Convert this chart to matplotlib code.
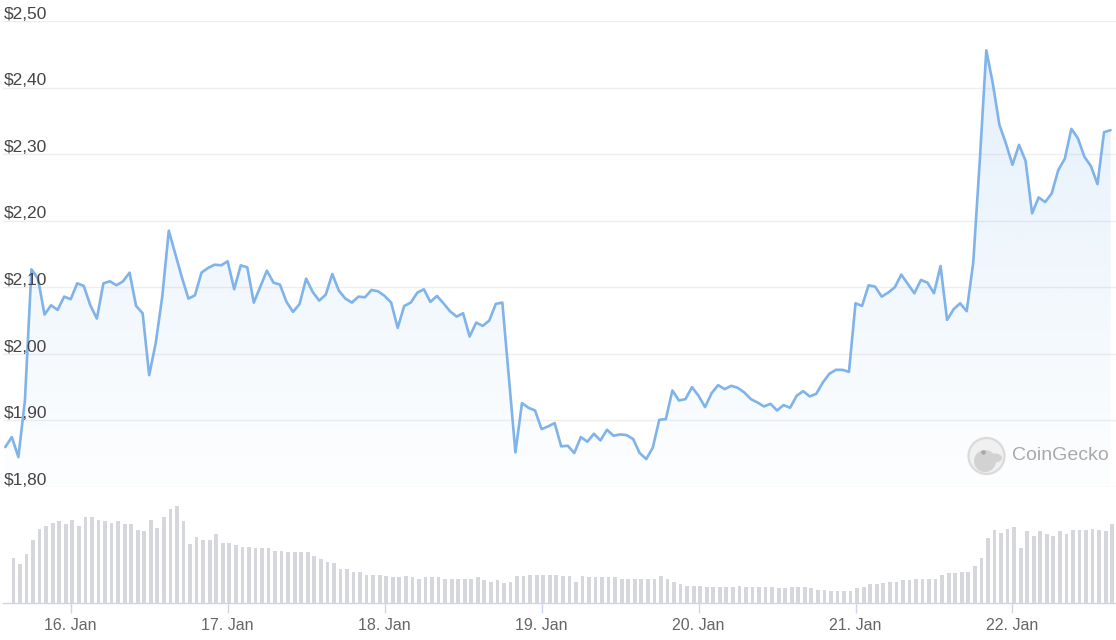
import numpy as np
import pandas as pd
import matplotlib
matplotlib.use("Agg")
import matplotlib.pyplot as plt
import matplotlib.dates as mdates
from matplotlib.patches import Circle, Ellipse, Polygon

plt.rcParams['font.family'] = ['Liberation Sans', 'DejaVu Sans']

# ---------------- data (hourly, starting 15 Jan 14:00) ----------------
start_time = "2025-01-15 14:00"

price = [
    1.860, 1.875, 1.845, 1.930, 2.127, 2.113, 2.059, 2.073, 2.066, 2.086,
    2.082, 2.106, 2.102, 2.073, 2.053, 2.106, 2.109, 2.103, 2.109, 2.122,
    2.072, 2.061, 1.968, 2.016, 2.086, 2.185, 2.150, 2.115, 2.083, 2.088,
    2.122, 2.129, 2.134, 2.133, 2.139, 2.097, 2.133, 2.130, 2.077, 2.101,
    2.125, 2.107, 2.104, 2.078, 2.063, 2.075, 2.113, 2.093, 2.080, 2.089,
    2.120, 2.095, 2.083, 2.077, 2.086, 2.085, 2.096, 2.094, 2.087, 2.077,
    2.039, 2.072, 2.077, 2.092, 2.097, 2.078, 2.087, 2.076, 2.064, 2.056,
    2.061, 2.026, 2.047, 2.042, 2.050, 2.075, 2.077, 1.965, 1.852, 1.926,
    1.919, 1.915, 1.887, 1.891, 1.896, 1.861, 1.862, 1.851, 1.875, 1.868,
    1.880, 1.870, 1.886, 1.877, 1.879, 1.878, 1.872, 1.851, 1.842, 1.859,
    1.901, 1.902, 1.945, 1.930, 1.932, 1.950, 1.937, 1.920, 1.941, 1.953,
    1.947, 1.952, 1.949, 1.942, 1.932, 1.927, 1.921, 1.925, 1.915, 1.923,
    1.919, 1.937, 1.944, 1.936, 1.940, 1.957, 1.970, 1.976, 1.976, 1.973,
    2.076, 2.072, 2.103, 2.101, 2.086, 2.092, 2.100, 2.119, 2.105, 2.091,
    2.111, 2.107, 2.091, 2.132, 2.051, 2.067, 2.076, 2.064, 2.137, 2.290,
    2.456, 2.406, 2.344, 2.316, 2.284, 2.314, 2.290, 2.211, 2.235, 2.228,
    2.241, 2.276, 2.293, 2.338, 2.324, 2.296, 2.282, 2.255, 2.333, 2.336,
]

# relative hourly volume (bar heights)
volume = [
    45.3, 39.3, 49.3, 63.3, 74.3, 77.3, 80.3, 81.7, 78.7, 83.0,
    77.3, 85.7, 85.7, 83.0, 81.7, 80.3, 81.7, 79.0, 79.0, 73.0,
    71.7, 83.0, 74.7, 85.7, 94.3, 97.0, 81.7, 59.0, 66.0, 63.3,
    63.3, 69.0, 60.3, 60.3, 57.7, 56.3, 56.3, 55.0, 55.0, 55.0,
    52.3, 52.3, 50.7, 50.7, 50.7, 50.7, 46.7, 43.7, 41.0, 39.7,
    34.0, 34.0, 31.3, 31.3, 28.3, 28.3, 28.3,
    27.0, 25.7, 25.7, 27.0, 25.7, 24.3, 25.7, 25.7, 25.7, 24.3,
    24.3, 24.3, 24.3, 24.3, 25.7, 22.7, 21.3, 22.7, 20.0, 21.3,
    27.0, 27.0, 28.3, 28.3, 28.3, 28.3, 28.3, 27.0, 27.0, 21.3,
    27.0, 25.7, 25.7, 25.7, 25.7, 25.7, 24.3, 24.3, 24.3, 24.3,
    24.3, 24.3, 27.0, 24.3, 21.3, 18.7, 17.3, 17.3, 17.3, 16.0,
    16.0, 16.0, 16.0, 16.0,
    17.3, 16.0, 16.0, 16.0, 16.0, 16.0, 14.7, 14.7, 16.0, 16.0,
    16.0, 14.7, 13.3, 13.3, 12.0, 12.0, 12.0, 12.0, 14.7, 16.0,
    18.7, 18.7, 20.0, 21.3, 21.3, 22.7, 22.7, 24.3, 24.3, 24.3,
    24.3, 28.3, 29.7, 29.7, 31.0, 31.0, 36.7, 45.0, 64.7, 73.0,
    70.3, 74.3, 76.0, 55.0, 71.7, 67.3, 71.7, 69.0, 67.3, 71.7,
    69.0, 73.0, 73.0, 73.0, 74.3, 73.0, 71.7, 78.7,
]

y_ticks = [1.80, 1.90, 2.00, 2.10, 2.20, 2.30, 2.40, 2.50]
y_tick_labels = [r"\$1,80", r"\$1,90", r"\$2,00", r"\$2,10",
                 r"\$2,20", r"\$2,30", r"\$2,40", r"\$2,50"]
day_ticks = ["2025-01-16", "2025-01-17", "2025-01-18", "2025-01-19",
             "2025-01-20", "2025-01-21", "2025-01-22"]

# ---------------- styling ----------------
W, H = 1116, 640
LINE = "#7fb3ea"
FILL_RGB = (124 / 255, 181 / 255, 236 / 255)
BAR = "#d5d7dc"
GRID = "#eeeeee"
AXIS = "#ccd6eb"

fig = plt.figure(figsize=(W / 100, H / 100), dpi=100)
fig.patch.set_facecolor("white")


def px_axes(left, top, right, bottom):
    return fig.add_axes([left / W, 1 - bottom / H, (right - left) / W, (bottom - top) / H])


ax = px_axes(3, 21, 1116, 487)
axv = px_axes(3, 495, 1116, 603)

t0 = pd.Timestamp(start_time)
times = pd.date_range(t0, periods=len(price), freq="h")
vtimes = pd.date_range(t0 + pd.Timedelta(minutes=75), periods=len(volume), freq="h")
tnum = mdates.date2num(times.to_pydatetime())
vnum = mdates.date2num(vtimes.to_pydatetime())

hour = 1.0 / 24
xmin = mdates.date2num(t0.to_pydatetime()) - 0.35 * hour
xmax = mdates.date2num(t0.to_pydatetime()) + 169.83 * hour

# ---- price panel ----
ymin, ymax = y_ticks[0], y_ticks[-1]
ax.set_xlim(xmin, xmax)
ax.set_ylim(ymin, ymax)
for s in ax.spines.values():
    s.set_visible(False)
ax.set_xticks([])
ax.set_yticks([])

for v in y_ticks:
    ax.axhline(v, color=GRID, lw=1.0, zorder=0.5)

# gradient area
grad = np.linspace(1, 0, 256)
rgba = np.zeros((256, 1, 4))
rgba[..., 0], rgba[..., 1], rgba[..., 2] = FILL_RGB
rgba[..., 3] = (0.015 + 0.20 * grad)[:, None]
im = ax.imshow(rgba, extent=[xmin, xmax, ymin, ymax], aspect="auto",
               origin="upper", zorder=1, interpolation="bilinear")
verts = [(tnum[0], ymin)] + list(zip(tnum, price)) + [(tnum[-1], ymin)]
clip = Polygon(verts, closed=True, facecolor="none", edgecolor="none",
               transform=ax.transData)
ax.add_patch(clip)
im.set_clip_path(clip)

ax.plot(tnum, price, color=LINE, lw=1.9, solid_joinstyle="round",
        solid_capstyle="round", zorder=3)

for v, lbl in zip(y_ticks, y_tick_labels):
    ax.annotate(lbl, xy=(0, v), xycoords=("axes fraction", "data"),
                xytext=(0.8, 1.6), textcoords="offset points",
                ha="left", va="baseline", fontsize=12.5, color="#454545",
                annotation_clip=False, zorder=4)

# ---- volume panel ----
axv.bar(vnum, volume, width=0.57 * hour, color=BAR, align="center", zorder=2)
axv.set_xlim(xmin, xmax)
axv.set_ylim(0, 108)
for k in ("top", "left", "right"):
    axv.spines[k].set_visible(False)
axv.spines["bottom"].set_color(AXIS)
axv.spines["bottom"].set_linewidth(1.0)
axv.set_yticks([])
axv.set_xticks(mdates.date2num(pd.to_datetime(day_ticks).to_pydatetime()))
axv.xaxis.set_major_formatter(mdates.DateFormatter("%d. %b"))
axv.tick_params(axis="x", length=7.5, width=1.0, color=AXIS,
                labelsize=11.5, labelcolor="#666666", pad=3)

# ---- CoinGecko watermark ----
ov = fig.add_axes([0, 0, 1, 1])
ov.set_xlim(0, W)
ov.set_ylim(H, 0)
ov.set_facecolor("none")
ov.axis("off")
ov.add_patch(Circle((986.5, 456), 18, facecolor="#f0f0f0", edgecolor="#dadada", lw=1.6))
ov.add_patch(Ellipse((985, 461), 22, 22, facecolor="#d2d2d2", edgecolor="none"))
ov.add_patch(Ellipse((995, 458), 14, 9, facecolor="#d2d2d2", edgecolor="none"))
ov.add_patch(Circle((983.5, 452.5), 2.2, facecolor="#a6a6a6", edgecolor="none"))
ov.text(1012, 456, "CoinGecko", fontsize=14, color="#aaaaaa", ha="left", va="center")

fig.savefig("out.png", dpi=100, facecolor="white")
